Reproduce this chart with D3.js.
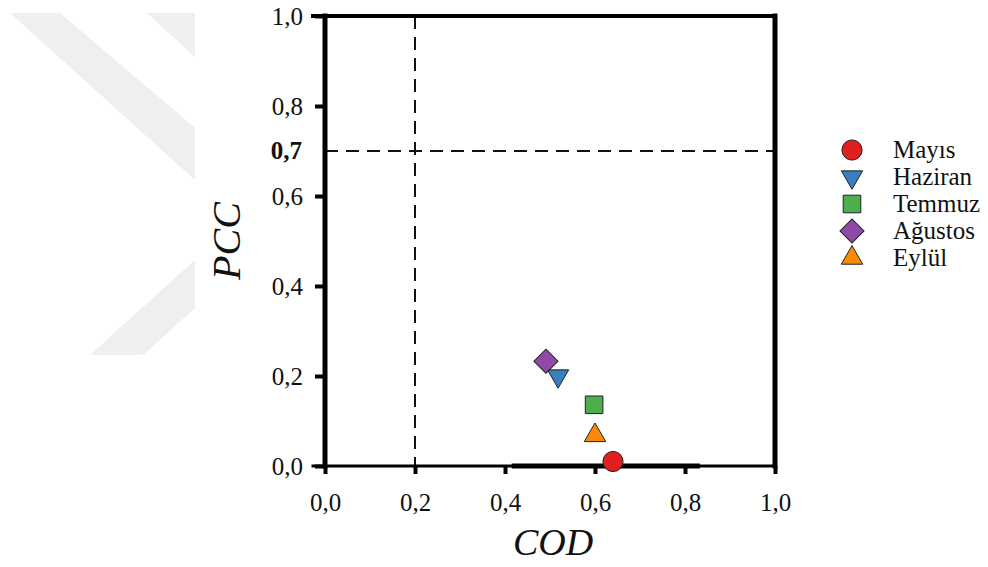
<!DOCTYPE html>
<html>
<head>
<meta charset="utf-8">
<script src="https://cdn.jsdelivr.net/npm/d3@7"></script>
<style>
  body { margin: 0; background: #fff; }
  svg { display: block; }
  text { font-family: "Liberation Serif", "Times New Roman", serif; fill: #111; }
</style>
</head>
<body>
<div id="chart"></div>
<script>
// data
const months = ["Mayıs", "Haziran", "Temmuz", "Ağustos", "Eylül"];
const codValues = [0.64, 0.518, 0.598, 0.491, 0.60];
const pccValues = [0.01, 0.200, 0.136, 0.233, 0.068];
const colors = ["#e0201f", "#3a7fc1", "#4cae4c", "#8e4aa5", "#f98a0c"];
const symbols = [d3.symbolCircle, d3.symbolTriangle, d3.symbolSquare, d3.symbolSquare, d3.symbolTriangle];
const symbolSizes = [320, 195, 310, 290, 200];
const rotations = [0, 180, 0, 45, 0];
const ticks = [0, 0.2, 0.4, 0.6, 0.8, 1.0];
const codThreshold = 0.2;
const pccThreshold = 0.7;
const zeroSegment = [0.415, 0.833];

const width = 988, height = 567;
const margin = { top: 16, right: 213, bottom: 101, left: 325 };
const plotW = width - margin.left - margin.right,
    plotH = height - margin.top - margin.bottom;

const fmt = d3.formatLocale({ decimal: ",", thousands: ".", grouping: [3], currency: ["", ""] }).format(".1f");

const svg = d3.select("#chart")
    .append("svg")
    .attr("width", width)
    .attr("height", height);

// faint watermark in the background
const wm = svg.append("g").attr("fill", "#efefef");
wm.append("path").attr("d", "M10,13 L60,13 L195,128 L195,180 Z");
wm.append("path").attr("d", "M147,13 L195,13 L195,57 Z");
wm.append("path").attr("d", "M195,260 L195,308 L143,355 L90,355 Z");

const g = svg.append("g")
    .attr("transform", "translate(" + margin.left + "," + margin.top + ")");

const x = d3.scaleLinear().domain([0, 1]).range([0, plotW]);
const y = d3.scaleLinear().domain([0, 1]).range([plotH, 0]);

// threshold lines
g.append("line")
    .attr("x1", x(codThreshold)).attr("x2", x(codThreshold))
    .attr("y1", y(1)).attr("y2", y(0))
    .attr("stroke", "#111").attr("stroke-width", 2)
    .attr("stroke-dasharray", "13,8");

g.append("line")
    .attr("x1", x(0)).attr("x2", x(1))
    .attr("y1", y(pccThreshold)).attr("y2", y(pccThreshold))
    .attr("stroke", "#111").attr("stroke-width", 2)
    .attr("stroke-dasharray", "13,8");

// axes
const xAxis = g.append("g")
    .attr("transform", "translate(0," + plotH + ")")
    .call(d3.axisBottom(x).tickValues(ticks).tickFormat(fmt).tickSize(8).tickPadding(19));

const yAxis = g.append("g")
    .call(d3.axisLeft(y).tickValues(ticks).tickFormat(fmt).tickSize(10).tickPadding(12));

[xAxis, yAxis].forEach(a => {
    a.select(".domain").remove();
    a.selectAll(".tick line").attr("stroke", "#000").attr("stroke-width", 4);
    a.selectAll(".tick text")
        .style("font-family", "'Liberation Serif', serif")
        .style("font-size", "25px")
        .attr("fill", "#111");
});

// bold 0,7 label for the threshold
g.append("text")
    .attr("x", -23)
    .attr("y", y(pccThreshold))
    .attr("dy", "0.32em")
    .attr("text-anchor", "end")
    .style("font-size", "25px")
    .style("font-weight", "bold")
    .text(fmt(pccThreshold));

// frame
const frame = g.append("g").attr("stroke", "#000").attr("stroke-linecap", "square");
frame.append("line").attr("x1", x(0)).attr("x2", x(0)).attr("y1", y(0)).attr("y2", y(1)).attr("stroke-width", 5);
frame.append("line").attr("x1", x(1)).attr("x2", x(1)).attr("y1", y(0)).attr("y2", y(1)).attr("stroke-width", 5);
frame.append("line").attr("x1", x(0) - 12).attr("x2", x(1)).attr("y1", y(1)).attr("y2", y(1)).attr("stroke-width", 4);
frame.append("line").attr("x1", x(0) - 12).attr("x2", x(1)).attr("y1", y(0)).attr("y2", y(0)).attr("stroke-width", 3);

// thicker bit along zero
g.append("line")
    .attr("x1", x(zeroSegment[0])).attr("x2", x(zeroSegment[1]))
    .attr("y1", y(0)).attr("y2", y(0))
    .attr("stroke", "#000").attr("stroke-width", 5);

// points
const points = months.map((m, i) => ({ name: m, cod: codValues[i], pcc: pccValues[i], i: i }));

g.append("g")
    .selectAll("path")
    .data(points)
    .enter()
    .append("path")
    .attr("d", d => d3.symbol().type(symbols[d.i]).size(symbolSizes[d.i])())
    .attr("transform", d => "translate(" + x(d.cod) + "," + y(d.pcc) + ") rotate(" + rotations[d.i] + ")")
    .attr("fill", d => colors[d.i])
    .attr("stroke", "#222")
    .attr("stroke-width", 1);

// axis titles
svg.append("text")
    .attr("transform", "translate(240," + (margin.top + plotH / 2) + ") rotate(-90)")
    .attr("text-anchor", "middle")
    .style("font-size", "40px")
    .style("font-style", "italic")
    .text("PCC");

svg.append("text")
    .attr("x", margin.left + plotW / 2 + 3)
    .attr("y", 555)
    .attr("text-anchor", "middle")
    .style("font-size", "38px")
    .style("font-style", "italic")
    .text("COD");

// legend
const legend = svg.append("g").attr("transform", "translate(852,150)");
const rows = legend.selectAll("g")
    .data(points)
    .enter()
    .append("g")
    .attr("transform", (d, i) => "translate(0," + i * 27 + ")");

rows.append("path")
    .attr("d", d => d3.symbol().type(symbols[d.i]).size(symbolSizes[d.i])())
    .attr("transform", d => "rotate(" + rotations[d.i] + ")")
    .attr("fill", d => colors[d.i])
    .attr("stroke", "#222")
    .attr("stroke-width", 1);

rows.append("text")
    .attr("x", 41)
    .attr("dy", "0.32em")
    .style("font-size", "25px")
    .text(d => d.name);
</script>
</body>
</html>
